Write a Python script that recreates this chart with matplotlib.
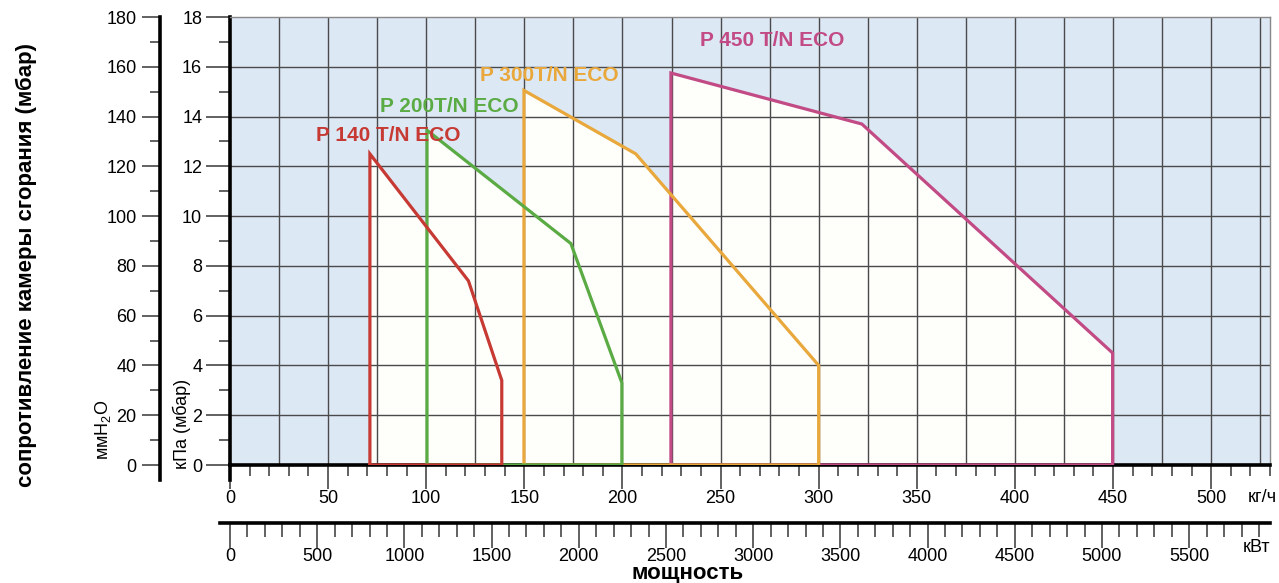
"""
Рабочие поля горелок P 140 / 200 / 300 / 450 T/N ECO:
сопротивление камеры сгорания против мощности (кг/ч и кВт).
"""

import matplotlib

matplotlib.use("Agg")
import matplotlib.pyplot as plt
from matplotlib.ticker import MultipleLocator

# ---- данные (кг/ч, кПа) ----
P140_X = [71.3, 71.3, 121.5, 138.5, 138.5]
P140_Y = [0.0, 12.5, 7.4, 3.4, 0.0]
P200_X = [100.4, 100.4, 173.7, 199.7, 199.7]
P200_Y = [0.0, 13.45, 8.9, 3.3, 0.0]
P300_X = [149.8, 149.8, 206.8, 300.0, 300.0]
P300_Y = [0.0, 15.05, 12.5, 4.0, 0.0]
P450_X = [224.7, 224.7, 322.0, 449.8, 449.8]
P450_Y = [0.0, 15.75, 13.7, 4.5, 0.0]

SERIES_NAMES = ["P 140 T/N ECO", "P 200T/N ECO", "P 300T/N ECO", "P 450 T/N ECO"]
SERIES_COLORS = ["#c63a33", "#5bab45", "#e9a83c", "#c24b85"]
# позиция подписи (левый край, центр по вертикали)
LABEL_POS = [(43.8, 13.25), (76.4, 14.42), (127.4, 15.66), (239.4, 17.07)]

X_MAX_KG = 530
KW_PER_PX = 1 / 0.1744  # шкала кВт: 0 на x=230 px

FIG_W, FIG_H, DPI = 12.79, 5.83, 100
BG = "#dde8f5"
FILL = "#fefefb"
GRID_C = "#4a4a4a"
TICK_C = "#555555"
FONT = ["Liberation Sans", "DejaVu Sans"]
TICK_FS = 13


def fx(px):
    return px / (FIG_W * DPI)


def fy(py):
    return 1 - py / (FIG_H * DPI)


plt.rcParams["font.family"] = FONT
plt.rcParams["mathtext.fontset"] = "custom"
plt.rcParams["mathtext.rm"] = "Liberation Sans"

fig = plt.figure(figsize=(FIG_W, FIG_H), dpi=DPI)
fig.patch.set_facecolor("white")

# ---- основная область ----
L, R, T, B = 230, 1270, 17, 465
ax = fig.add_axes([fx(L), fy(B), fx(R - L), fy(T) - fy(B)])
ax.set_facecolor(BG)
ax.set_xlim(0, X_MAX_KG)
ax.set_ylim(0, 18)

series = [(P140_X, P140_Y), (P200_X, P200_Y), (P300_X, P300_Y), (P450_X, P450_Y)]
for xs, ys in series:
    ax.fill(xs, ys, color=FILL, lw=0, zorder=0.2)

for v in range(25, X_MAX_KG, 25):
    ax.axvline(v, color=GRID_C, lw=1.0, zorder=0.6)
for v in range(2, 18, 2):
    ax.axhline(v, color=GRID_C, lw=1.0, zorder=0.6)

# рисуем от P450 к P140, чтобы нижние отрезки лежали как в оригинале
for i in reversed(range(4)):
    xs, ys = series[i]
    ax.plot(xs + [xs[0]], ys + [ys[0]], color=SERIES_COLORS[i], lw=2.3,
            solid_joinstyle="miter", zorder=3)
    lx, ly = LABEL_POS[i]
    ax.text(lx, ly, SERIES_NAMES[i], color=SERIES_COLORS[i], fontsize=15,
            fontweight="bold", ha="left", va="center", zorder=4)

for side in ("top", "right"):
    ax.spines[side].set_color("#888888")
    ax.spines[side].set_linewidth(1.0)
ax.spines["left"].set_linewidth(2.6)
ax.spines["bottom"].set_linewidth(2.6)
ax.plot([0, 0], [0, -0.6], color="black", lw=2.6, clip_on=False, zorder=5)

ax.set_xticks(range(0, 501, 50))
ax.xaxis.set_minor_locator(MultipleLocator(10))
ax.yaxis.set_major_locator(MultipleLocator(2))
ax.yaxis.set_minor_locator(MultipleLocator(1))
ax.tick_params(axis="x", which="major", direction="out", length=17, width=1.3,
               labelsize=TICK_FS, pad=1, color=TICK_C)
ax.tick_params(axis="x", which="minor", direction="out", length=8, width=1.3,
               color=TICK_C)
ax.tick_params(axis="y", which="major", direction="out", length=17, width=1.3,
               labelsize=TICK_FS, pad=3, color=TICK_C)
ax.tick_params(axis="y", which="minor", direction="out", length=8, width=1.3,
               color=TICK_C)

fig.text(fx(1248), fy(497), "кг/ч", fontsize=TICK_FS, ha="left", va="center")

# ---- шкала мм вод. ст. ----
mm_bottom = 480
ax_mm = fig.add_axes([fx(160), fy(mm_bottom), 0.0005, fy(T) - fy(mm_bottom)])
ax_mm.set_ylim(-(mm_bottom - B) / ((B - T) / 180), 180)
ax_mm.set_xticks([])
ax_mm.patch.set_visible(False)
for side in ("top", "right", "bottom"):
    ax_mm.spines[side].set_visible(False)
ax_mm.spines["left"].set_linewidth(2.6)
ax_mm.set_yticks(range(0, 181, 20))
ax_mm.yaxis.set_minor_locator(MultipleLocator(10))
ax_mm.tick_params(axis="y", which="major", length=13, width=1.3,
                  labelsize=TICK_FS, pad=4, color=TICK_C)
ax_mm.tick_params(axis="y", which="minor", length=7, width=1.3, color=TICK_C)

fig.text(fx(103), fy(430), "ммH$_2$O", fontsize=13, rotation=90,
         ha="center", va="center")
fig.text(fx(182), fy(424), "кПа (мбар)", fontsize=13, rotation=90,
         ha="center", va="center")

# ---- шкала кВт ----
kw_y = 523
kw_l = 220
ax_kw = fig.add_axes([fx(kw_l), fy(kw_y), fx(R - kw_l), 0.0005])
ax_kw.set_xlim((kw_l - L) * KW_PER_PX, (R - L) * KW_PER_PX)
ax_kw.set_yticks([])
ax_kw.patch.set_visible(False)
for side in ("top", "right", "left"):
    ax_kw.spines[side].set_visible(False)
ax_kw.spines["bottom"].set_linewidth(2.6)
ax_kw.set_xticks(range(0, 5501, 500))
ax_kw.xaxis.set_minor_locator(MultipleLocator(100))
ax_kw.tick_params(axis="x", which="major", length=18, width=1.3,
                  labelsize=TICK_FS, pad=0, color=TICK_C)
ax_kw.tick_params(axis="x", which="minor", length=10, width=1.3, color=TICK_C)
fig.text(fx(1243), fy(548), "кВт", fontsize=TICK_FS, ha="left", va="center")

# ---- подписи осей ----
fig.text(fx(688), fy(574), "мощность", fontsize=16, fontweight="bold",
         ha="center", va="center")
fig.text(fx(26), fy(265), "сопротивление камеры сгорания (мбар)", fontsize=16,
         fontweight="bold", rotation=90, ha="center", va="center")

fig.savefig("out.png", dpi=DPI)
